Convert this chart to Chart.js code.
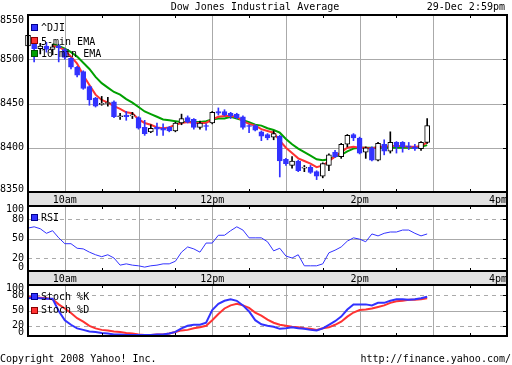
<!DOCTYPE html>
<html>
<head>
<meta charset="utf-8">
<script src="https://cdn.jsdelivr.net/npm/chart.js@4.4.1/dist/chart.umd.min.js"></script>
<style>
body { margin: 0; background: #fff; }
#wrap { position: relative; width: 512px; height: 365px; overflow: hidden; font-family: "DejaVu Sans Mono", monospace; font-size: 10px; color: #000; }
canvas { position: absolute; left: 0; }
.txt { position: absolute; white-space: nowrap; line-height: 12px; z-index: 5; }
.box { position: absolute; left: 31px; width: 5px; height: 5px; border: 1px solid; z-index: 5; }
</style>
</head>
<body>
<div id="wrap">
  <canvas id="main" width="512" height="206" style="top:0"></canvas>
  <canvas id="rsiChart" width="512" height="85" style="top:200px"></canvas>
  <canvas id="stochChart" width="512" height="86" style="top:279px"></canvas>

  <div class="txt" style="left:0;width:510px;text-align:center;top:1px">Dow Jones Industrial Average</div>
  <div class="txt" style="right:7px;top:1px">29-Dec 2:59pm</div>

  <div class="box" style="top:24px;background:#3232ff;border-color:#00008c"></div>
  <div class="txt" style="left:41px;top:22px">^DJI</div>
  <div class="box" style="top:37px;background:#ff3232;border-color:#8c0000"></div>
  <div class="txt" style="left:41px;top:36px">5-min EMA</div>
  <div class="box" style="top:50px;background:#00a000;border-color:#005000"></div>
  <div class="txt" style="left:41px;top:48px">10-min EMA</div>

  <div class="box" style="top:214px;background:#3232ff;border-color:#00008c"></div>
  <div class="txt" style="left:41px;top:212px">RSI</div>

  <div class="box" style="top:293px;background:#3232ff;border-color:#00008c"></div>
  <div class="txt" style="left:41px;top:291px">Stoch %K</div>
  <div class="box" style="top:307px;background:#ff3232;border-color:#8c0000"></div>
  <div class="txt" style="left:41px;top:304px">Stoch %D</div>

  <div class="txt" style="left:0;top:353px">Copyright 2008 Yahoo! Inc.</div>
  <div class="txt" style="right:1px;top:353px">http://finance.yahoo.com/</div>
</div>
<script>
const MONO = '"DejaVu Sans Mono", monospace';
const BLUE = '#3232ff';
const RED = '#ff3232';
const GREEN = '#00a000';

// 5-minute bars starting 9:30 (x = minutes after 9:30)
const barMinutes = 5;
const hourTicks = [0, 30, 150, 270, 390];
const hourLabels = ['', '10am', '12pm', '2pm', '4pm'];
const priceTicks = [8350, 8400, 8450, 8500, 8550];
const oscTicks = [0, 20, 50, 80, 100];

const open = [
  8515, 8519, 8512, 8515, 8511, 8515, 8511, 8501, 8491, 8486,
  8469, 8456, 8449, 8450, 8452, 8435, 8437, 8436, 8434, 8423,
  8418, 8423, 8422, 8423, 8419, 8428, 8434, 8432, 8423, 8425,
  8428, 8441, 8441, 8439, 8438, 8435, 8425, 8425, 8418, 8415,
  8412, 8413, 8387, 8380, 8385, 8377, 8378, 8373, 8368, 8380,
  8395, 8390, 8404, 8415, 8411, 8395, 8400, 8386, 8404, 8396,
  8406, 8406, 8402, 8401, 8399, 8406
];
const high = [
  8531, 8522, 8518, 8519, 8517, 8517, 8512, 8502, 8492, 8487,
  8470, 8457, 8458, 8457, 8453, 8439, 8441, 8440, 8435, 8431,
  8426, 8428, 8427, 8424, 8429, 8438, 8436, 8433, 8430, 8427,
  8441, 8445, 8443, 8440, 8439, 8436, 8426, 8426, 8419, 8416,
  8419, 8414, 8388, 8390, 8386, 8380, 8380, 8374, 8383, 8393,
  8397, 8405, 8415, 8416, 8412, 8401, 8401, 8406, 8409, 8418,
  8407, 8407, 8406, 8404, 8407, 8433
];
const low = [
  8507, 8497, 8506, 8508, 8505, 8497, 8500, 8489, 8480, 8466,
  8448, 8446, 8448, 8447, 8434, 8432, 8431, 8433, 8421, 8414,
  8417, 8414, 8414, 8418, 8418, 8426, 8428, 8421, 8421, 8420,
  8427, 8437, 8436, 8433, 8433, 8421, 8417, 8419, 8408, 8409,
  8409, 8367, 8380, 8377, 8373, 8373, 8371, 8364, 8366, 8374,
  8389, 8388, 8401, 8408, 8393, 8388, 8385, 8385, 8392, 8394,
  8394, 8395, 8398, 8397, 8397, 8405
];
const close = [
  8527, 8512, 8515, 8511, 8514, 8513, 8502, 8491, 8482, 8467,
  8454, 8447, 8449, 8450, 8435, 8435, 8435, 8436, 8422, 8416,
  8422, 8421, 8420, 8419, 8428, 8433, 8429, 8423, 8428, 8424,
  8440, 8439, 8437, 8436, 8434, 8423, 8424, 8420, 8413, 8411,
  8416, 8385, 8382, 8385, 8374, 8377, 8372, 8368, 8382, 8392,
  8390, 8404, 8414, 8411, 8394, 8400, 8386, 8405, 8396, 8406,
  8401, 8401, 8401, 8399, 8406, 8425
];
const ema5 = [
  null, null, null, null, 8515, 8514, 8510, 8503, 8495, 8482,
  8471, 8460, 8454, 8451, 8447, 8444, 8440, 8439, 8432, 8428,
  8426, 8423, 8422, 8423, 8426, 8428, 8429, 8428, 8428, 8428,
  8432, 8435, 8436, 8436, 8435, 8430, 8427, 8425, 8421, 8419,
  8417, 8408, 8400, 8394, 8388, 8385, 8382, 8378, 8380, 8385,
  8390, 8395, 8400, 8401, 8400, 8400, 8399, 8401, 8401, 8402,
  8402, 8402, 8401, 8401, 8402, 8406
];
const ema10 = [
  null, null, null, null, 8517, 8515, 8512, 8508, 8503, 8496,
  8489, 8480, 8473, 8468, 8463, 8460, 8455, 8451, 8446, 8441,
  8438, 8435, 8432, 8431, 8430, 8429, 8429, 8429, 8429, 8430,
  8432, 8433, 8433, 8435, 8433, 8431, 8429, 8426, 8425, 8422,
  8420, 8417, 8410, 8404, 8399, 8395, 8391, 8387, 8386, 8387,
  8390, 8392, 8396, 8399, 8400, 8400, 8400, 8400, 8400, 8400,
  8400, 8400, 8400, 8400, 8401, 8403
];
const rsi = [
  66, 68, 65, 58, 62, 51, 42, 42, 35, 34,
  29, 25, 22, 25, 20, 9, 11, 9, 8, 6,
  8, 9, 11, 11, 15, 29, 37, 34, 29, 43,
  43, 55, 55, 62, 68, 63, 51, 51, 51, 45,
  31, 35, 23, 20, 25, 8, 8, 8, 11, 28,
  32, 37, 46, 51, 49, 45, 57, 54, 58, 60,
  60, 63, 63, 58, 54, 57
];
const stochK = [
  74, 75, 74, 73, 73, 49, 31, 22, 15, 12,
  9, 8, 6, 5, 3, 3, 2, 2, 2, 2,
  2, 3, 3, 5, 8, 15, 20, 22, 22, 26,
  51, 63, 69, 72, 69, 60, 48, 31, 23, 20,
  18, 14, 15, 17, 15, 14, 12, 11, 15, 22,
  29, 38, 52, 62, 62, 62, 60, 65, 65, 69,
  72, 72, 71, 72, 74, 77
];
const stochD = [
  77, 76, 75, 74, 72, 62, 54, 45, 35, 28,
  20, 15, 12, 11, 9, 8, 6, 5, 3, 2,
  2, 3, 3, 5, 8, 11, 12, 15, 17, 20,
  31, 43, 54, 60, 63, 60, 55, 46, 40, 32,
  26, 22, 20, 18, 17, 15, 14, 12, 15, 17,
  22, 28, 38, 46, 51, 52, 54, 57, 60, 65,
  68, 69, 71, 71, 72, 74
];

const xy = arr => arr.map((v, i) => ({ x: i * barMinutes, y: v }));
const isUp = i => close[i] >= open[i];

// grid, border, tick marks and the grey time band
const framePlugin = {
  id: 'frame',
  beforeDraw(chart, args, opts) {
    if (!opts.band) return;
    const { ctx, chartArea: a } = chart;
    ctx.save();
    ctx.fillStyle = '#e2e2e2';
    ctx.fillRect(a.left, a.bottom, a.right - a.left, 14);
    ctx.strokeStyle = '#000';
    ctx.lineWidth = 2;
    ctx.strokeRect(a.left, a.bottom, a.right - a.left, 14);
    ctx.restore();
  },
  beforeDatasetsDraw(chart, args, opts) {
    const { ctx, chartArea: a, scales: { x, y } } = chart;
    ctx.save();
    ctx.strokeStyle = '#aaaaaa';
    ctx.lineWidth = 1;
    for (let m = 30; m < 390; m += 60) {
      const px = Math.round(x.getPixelForValue(m)) + 0.5;
      ctx.beginPath(); ctx.moveTo(px, a.top); ctx.lineTo(px, a.bottom); ctx.stroke();
    }
    const hline = v => {
      const py = Math.round(y.getPixelForValue(v)) + 0.5;
      ctx.beginPath(); ctx.moveTo(a.left, py); ctx.lineTo(a.right, py); ctx.stroke();
    };
    opts.solid.forEach(hline);
    ctx.setLineDash([4, 4]);
    opts.dashed.forEach(hline);
    ctx.restore();
  },
  afterDatasetsDraw(chart, args, opts) {
    const { ctx, chartArea: a, scales: { x, y } } = chart;
    ctx.save();
    ctx.strokeStyle = '#000';
    ctx.lineWidth = 1;
    for (let m = 60; m < 390; m += 60) {
      const px = Math.round(x.getPixelForValue(m)) + 0.5;
      ctx.beginPath();
      ctx.moveTo(px, a.top); ctx.lineTo(px, a.top + 3);
      ctx.moveTo(px, a.bottom); ctx.lineTo(px, a.bottom - 3);
      ctx.stroke();
    }
    opts.solid.concat(opts.dashed).forEach(v => {
      const py = Math.round(y.getPixelForValue(v)) + 0.5;
      ctx.beginPath(); ctx.moveTo(a.right, py); ctx.lineTo(a.right - 4, py); ctx.stroke();
    });
    ctx.lineWidth = 2;
    ctx.strokeRect(a.left, a.top, a.right - a.left, a.bottom - a.top);
    ctx.restore();
  }
};

function xScale(showLabels) {
  return {
    type: 'linear', min: 0, max: 390, offset: false, display: showLabels,
    grid: { display: false, drawTicks: false }, border: { display: false },
    afterBuildTicks: s => { s.ticks = hourTicks.map(v => ({ value: v })); },
    ticks: {
      autoSkip: false, maxRotation: 0, align: 'inner', padding: 2, color: '#000',
      font: { family: MONO, size: 10 },
      callback: v => hourLabels[hourTicks.indexOf(v)] || ''
    },
    afterFit: s => { s.height = 14; s.paddingLeft = 0; s.paddingRight = 0; }
  };
}

// edge labels are nudged inward as two-line labels
function yScale(min, max, ticks, lhTop, lhBottom) {
  return {
    min: min, max: max,
    grid: { display: false, drawTicks: false }, border: { display: false },
    afterBuildTicks: s => { s.ticks = ticks.map(v => ({ value: v })); },
    ticks: {
      autoSkip: false, padding: 4, color: '#000',
      font: ctx => ({
        family: MONO, size: 10,
        lineHeight: ctx.tick && ctx.tick.value === max ? lhTop : (ctx.tick && ctx.tick.value === min ? lhBottom : '12px')
      }),
      callback: v => v === max ? ['', String(v)] : (v === min ? [String(v), ''] : String(v))
    },
    afterFit: s => { s.width = 28; s.paddingTop = 0; s.paddingBottom = 0; }
  };
}

const common = {
  responsive: false,
  animation: false,
  events: []
};

new Chart(document.getElementById('main'), {
  type: 'bar',
  data: {
    datasets: [
      { type: 'line', label: '5-min EMA', data: xy(ema5), borderColor: RED, borderWidth: 2, pointRadius: 0, order: 3 },
      { type: 'line', label: '10-min EMA', data: xy(ema10), borderColor: GREEN, borderWidth: 2, pointRadius: 0, order: 4 },
      {
        label: 'wick', grouped: false, clip: false, order: 2, barThickness: 1, borderWidth: 0,
        data: low.map((l, i) => ({ x: i * barMinutes, y: [l, high[i]] })),
        backgroundColor: ctx => isUp(ctx.dataIndex) ? '#000' : BLUE
      },
      {
        label: '^DJI', grouped: false, clip: false, order: 1, barThickness: 5, minBarLength: 1,
        borderWidth: 1, borderSkipped: false,
        data: open.map((o, i) => ({ x: i * barMinutes, y: [o, close[i]] })),
        backgroundColor: ctx => isUp(ctx.dataIndex) ? '#fff' : BLUE,
        borderColor: ctx => isUp(ctx.dataIndex) ? '#000' : BLUE
      }
    ]
  },
  options: Object.assign({}, common, {
    layout: { padding: { top: 15, right: 5, left: 0, bottom: 0 } },
    plugins: {
      legend: { display: false }, tooltip: { enabled: false },
      frame: { band: true, solid: [8400, 8450, 8500], dashed: [] }
    },
    scales: {
      x: xScale(true),
      y: yScale(8350, 8550, priceTicks, '10px', '6px')
    }
  }),
  plugins: [framePlugin]
});

new Chart(document.getElementById('rsiChart'), {
  type: 'line',
  data: {
    datasets: [
      { label: 'RSI', data: xy(rsi), borderColor: BLUE, borderWidth: 1, pointRadius: 0 }
    ]
  },
  options: Object.assign({}, common, {
    layout: { padding: { top: 6, right: 5, left: 0, bottom: 0 } },
    plugins: {
      legend: { display: false }, tooltip: { enabled: false },
      frame: { band: true, solid: [50], dashed: [20, 80] }
    },
    scales: {
      x: xScale(true),
      y: yScale(0, 100, oscTicks, '7px', '7px')
    }
  }),
  plugins: [framePlugin]
});

new Chart(document.getElementById('stochChart'), {
  type: 'line',
  data: {
    datasets: [
      { label: 'Stoch %K', data: xy(stochK), borderColor: BLUE, borderWidth: 2, pointRadius: 0 },
      { label: 'Stoch %D', data: xy(stochD), borderColor: RED, borderWidth: 2, pointRadius: 0 }
    ]
  },
  options: Object.assign({}, common, {
    layout: { padding: { top: 6, right: 5, left: 0, bottom: 15 } },
    plugins: {
      legend: { display: false }, tooltip: { enabled: false },
      frame: { band: false, solid: [50], dashed: [20, 80] }
    },
    scales: {
      x: xScale(false),
      y: yScale(0, 100, oscTicks, '7px', '7px')
    }
  }),
  plugins: [framePlugin]
});
</script>
</body>
</html>
